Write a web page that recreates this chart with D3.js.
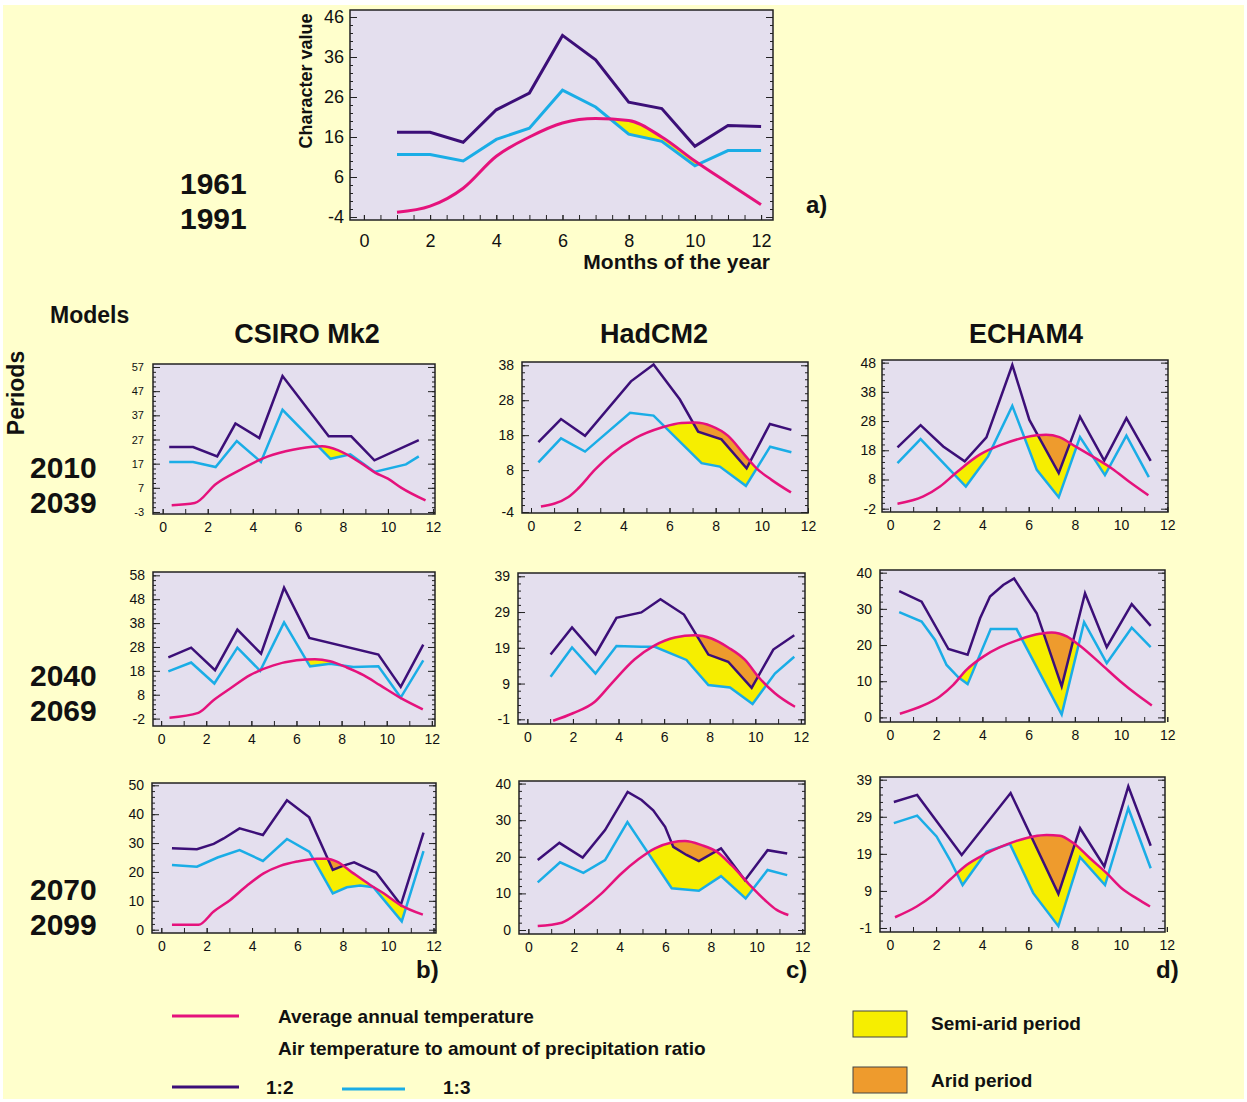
<!DOCTYPE html>
<html lang="en">
<head>
<meta charset="UTF-8">
<title>Character values by period and model</title>
<script src="https://d3js.org/d3.v7.min.js"></script>
<style>
  body { margin: 0; background: #ffffff; }
  svg { display: block; font-family: "Liberation Sans", Arial, sans-serif; }
</style>
</head>
<body>
<div id="chart"></div>
<script>
// ---- data ----
// 1961-1991 baseline, one value per month
var base_months = [1, 2, 3, 4, 5, 6, 7, 8, 9, 10, 11, 12];
var base_r2 = [17.2, 17.2, 14.7, 22.8, 27, 41.4, 35.3, 24.7, 23.1, 13.7, 18.9, 18.6];
var base_r3 = [11.6, 11.6, 10, 15.4, 18.2, 27.7, 23.5, 16.7, 14.9, 8.8, 12.6, 12.6];
var base_t  = [-2.8, -1.3, 3.2, 11.2, 16, 19.5, 20.6, 20.1, 16, 10, 4.5, -0.9];

// model periods: [month position, value]
var csiro_2010_r2 = [[0.29,23.9],[1.35,23.9],[2.42,20],[3.23,33.6],[4.29,27.6],[5.32,53.3],[7.37,28.3],[8.37,28.3],[9.4,18.4],[11.37,26.7]];
var csiro_2010_r3 = [[0.29,17.7],[1.35,17.7],[2.35,15.6],[3.29,26.4],[4.36,17.7],[5.32,39.3],[7.45,19],[8.33,20.9],[9.4,13.6],[10.8,16.7],[11.37,20]];
var csiro_2010_t  = [[0.4,-0.2],[1.42,0.7],[2.38,8.7],[3.4,14.2],[4.43,19.1],[5.46,22.1],[6.64,24],[7.08,24.2],[7.8,22.5],[8.84,17],[9.43,13.3],[10,10.8],[10.6,7],[11.67,1.8]];

var hadcm2_2010_r2 = [[0.32,16],[1.3,22.6],[2.34,17.8],[4.33,33.4],[5.31,38.2],[6.45,28.2],[7.24,19],[8.25,16.8],[9.34,8.5],[10.35,21.2],[11.28,19.5]];
var hadcm2_2010_r3 = [[0.32,10.2],[1.3,17.1],[2.34,13.3],[4.29,24.4],[5.31,23.6],[7.39,10],[8.18,9],[9.31,3.5],[10.36,14.7],[11.28,13.1]];
var hadcm2_2010_t  = [[0.43,-2.4],[1.62,0.3],[2.05,2.8],[2.77,8.1],[3.5,12.6],[4.5,17.1],[5.66,20.2],[6.52,21.5],[7.1,21.6],[7.82,20.6],[8.54,17.8],[9.26,12.3],[9.77,8.5],[10.42,5.2],[11.26,1.6]];

var echam4_2010_r2 = [[0.32,19],[1.32,26.6],[2.3,19.3],[3.23,14.2],[4.17,22.4],[5.29,47.2],[6.03,28.4],[7.3,10.2],[8.22,29.5],[9.27,14.5],[10.23,29],[11.28,14.4]];
var echam4_2010_r3 = [[0.32,13.6],[1.32,21.8],[3.28,5.6],[4.24,15.9],[5.29,33.2],[6.35,11.3],[7.3,1.9],[8.22,22.5],[9.3,9.5],[10.23,23],[11.2,8.8]];
var echam4_2010_t  = [[0.32,-0.3],[1.44,2.2],[2.16,5.6],[2.87,10.4],[3.88,16.5],[4.89,20.1],[5.89,22.5],[6.75,23.3],[7.33,22.5],[7.9,19.9],[8.76,15.9],[9.63,11.6],[10.34,7.3],[11.18,2.6]];

var csiro_2040_r2 = [[0.32,23.6],[1.33,27.7],[2.39,18.3],[3.38,35.3],[4.43,25.2],[5.45,52.8],[6.57,31.8],[9.63,24.8],[10.62,11.3],[11.62,29]];
var csiro_2040_r3 = [[0.32,17.8],[1.33,21.5],[2.36,12.7],[3.38,27.7],[4.39,18],[5.45,38.3],[6.6,19.9],[7.49,21],[8.52,19.6],[9.63,19.9],[10.62,6.8],[11.62,22.4]];
var csiro_2040_t  = [[0.37,-1.6],[1.65,0.4],[2.32,5.7],[3.06,10.6],[3.94,16.2],[4.98,20.3],[6.01,22.4],[6.82,22.9],[7.49,22],[8.23,19.4],[8.97,16.2],[9.7,12],[10.59,6.8],[11.6,1.9]];

var hadcm2_2040_r2 = [[1.02,17.1],[1.96,24.7],[2.99,17.2],[3.91,27.4],[5,28.9],[5.84,32.6],[6.87,28.3],[7.94,17.1],[8.81,15.1],[9.84,7.8],[10.79,18.5],[11.71,22.5]];
var hadcm2_2040_r3 = [[1.02,10.9],[1.96,19.1],[2.99,11.8],[3.91,19.5],[5,19.3],[5.59,19.3],[6.98,15.6],[7.94,8.6],[8.89,7.9],[9.88,3.3],[10.86,11.8],[11.71,16.5]];
var hadcm2_2040_t  = [[1.13,-1.4],[2,0.7],[2.96,3.9],[3.69,9],[4.71,15.8],[5.59,19.7],[6.47,21.9],[7.35,22.5],[8.08,21.6],[8.81,19.1],[9.55,15.6],[10.13,10.9],[10.86,6.3],[11.74,2.5]];

var echam4_2040_r2 = [[0.4,34.9],[1.37,32],[2.53,18.9],[3.36,17.3],[3.9,27.4],[4.33,33.4],[4.9,36.6],[5.37,38.4],[6.35,28.8],[7.43,8.6],[8.44,34.3],[9.38,19.4],[10.46,31.3],[11.28,25.3]];
var echam4_2040_r3 = [[0.4,29.1],[1.37,26.5],[1.95,21.4],[2.45,14.5],[2.96,11.1],[3.36,9.2],[4.36,24.4],[5.48,24.4],[7.43,0.8],[8.4,26.3],[9.38,15],[10.46,24.8],[11.28,19.4]];
var echam4_2040_t  = [[0.43,1],[1.44,3.3],[2.16,5.8],[2.74,9],[3.32,13.2],[4.04,16.8],[4.76,19.4],[5.63,21.6],[6.49,23.1],[7,23.5],[7.65,22.4],[8.22,19.8],[9.09,15],[9.96,10],[10.68,6.3],[11.33,3.3]];

var csiro_2070_r2 = [[0.47,28.2],[1.57,27.9],[2.31,29.7],[2.75,31.6],[3.45,35.1],[4.48,32.8],[5.54,44.8],[6.52,38.9],[7.56,20.7],[8.03,22.2],[8.5,23.3],[9.47,19.8],[10.56,8.6],[11.56,33.6]];
var csiro_2070_r3 = [[0.47,22.4],[1.57,21.8],[2.48,25],[3.45,27.6],[4.48,23.8],[5.54,31.4],[6.52,27],[7.56,12.6],[8.18,14.7],[8.77,15.3],[9.35,14.7],[10.6,2.9],[11.56,27.2]];
var csiro_2070_t  = [[0.47,1.7],[1.64,1.7],[2.31,6.3],[3.04,10.3],[3.77,15.2],[4.51,19.5],[5.24,22.1],[5.98,23.6],[6.86,24.6],[7.3,24.6],[7.74,23.6],[8.47,19.5],[9.21,15.5],[9.8,12.6],[10.53,8.6],[11.53,5.2]];

var hadcm2_2070_r2 = [[0.41,19.1],[1.36,23.8],[2.38,19.8],[3.36,27.3],[4.35,37.7],[4.96,35.5],[5.47,32.7],[5.99,28.2],[6.35,22.7],[6.93,20.5],[7.47,18.8],[8.44,22.3],[9.49,13.6],[10.48,21.8],[11.34,20.9]];
var hadcm2_2070_r3 = [[0.41,13],[1.39,18.5],[2.41,15.6],[3.36,19.1],[4.34,29.5],[6.28,11.4],[7.47,10.7],[8.44,14.7],[9.52,8.6],[10.48,16.4],[11.34,15]];
var hadcm2_2070_t  = [[0.41,1.1],[1.46,2],[2.34,5.5],[3.21,10],[4.09,15.5],[4.82,19.3],[5.55,22.3],[6.28,23.9],[6.86,24.3],[7.59,23.2],[8.25,21.4],[8.9,17.7],[9.64,12.7],[10.36,8.2],[10.88,5.5],[11.39,4.1]];

var echam4_2070_r2 = [[0.17,33],[1.18,34.9],[3.11,18.7],[5.23,35.4],[7.3,8.2],[8.24,25.9],[9.29,15.6],[10.33,37.2],[11.3,21.2]];
var echam4_2070_r3 = [[0.17,27.3],[1.18,29.3],[2.02,23.7],[2.6,17.4],[3.15,10.6],[4.19,19.6],[5.2,21.7],[6.21,8.4],[7.3,-0.5],[8.24,18.1],[9.32,10.6],[10.33,31.3],[11.3,15.1]];
var echam4_2070_t  = [[0.22,1.9],[1.16,4.8],[1.88,7.9],[2.6,12],[3.32,16],[4.05,18.7],[4.77,20.8],[5.49,22.5],[6.21,23.7],[6.79,24.1],[7.37,23.9],[7.95,21.9],[8.67,17.8],[9.39,13.8],[10.12,9.3],[10.69,7],[11.27,4.8]];

// tick labels
var month_ticks = [0, 2, 4, 6, 8, 10, 12];
var base_yticks = [46, 36, 26, 16, 6, -4];
var csiro_2010_yticks = [57, 47, 37, 27, 17, 7, -3];
var hadcm2_2010_yticks = [38, 28, 18, 8, -4];
var echam4_2010_yticks = [48, 38, 28, 18, 8, -2];
var csiro_2040_yticks = [58, 48, 38, 28, 18, 8, -2];
var hadcm2_2040_yticks = [39, 29, 19, 9, -1];
var echam4_2040_yticks = [40, 30, 20, 10, 0];
var csiro_2070_yticks = [50, 40, 30, 20, 10, 0];
var hadcm2_2070_yticks = [40, 30, 20, 10, 0];
var echam4_2070_yticks = [39, 29, 19, 9, -1];

var models = ["CSIRO Mk2", "HadCM2", "ECHAM4"];
var periods = [["2010", "2039"], ["2040", "2069"], ["2070", "2099"]];

// colours
var c_page = "#ffffcc", c_plot = "#e4dfee";
var c_r2 = "#3c0f78", c_r3 = "#1aade6", c_t = "#e5127c";
var c_semi = "#f6ee00", c_arid = "#ee9b2d";

var svg = d3.select("#chart").append("svg")
    .attr("width", 1247)
    .attr("height", 1102);

svg.append("rect")
    .attr("x", 3).attr("y", 5)
    .attr("width", 1241).attr("height", 1094)
    .attr("fill", c_page);

var defs = svg.append("defs");

// panel placement on the page
var panels = [
  {id: "a",  box: [350, 10, 773, 220], xdom: [-0.42, 12.36], ydom: [-4.75, 47.75], yt: base_yticks,
   r2: d3.zip(base_months, base_r2), r3: d3.zip(base_months, base_r3), t: d3.zip(base_months, base_t),
   fs: 18, yfs: 18, xpad: 14, ypad: 6, xminor: 0.5, lw: 3},
  {id: "b1", box: [153, 364, 435, 514], xdom: [-0.43, 12.09], ydom: [-3.83, 58.24], yt: csiro_2010_yticks,
   r2: csiro_2010_r2, r3: csiro_2010_r3, t: csiro_2010_t, fs: 14, yfs: 11, xpad: 8, ypad: 9, xminor: 1, lw: 2.5},
  {id: "c1", box: [522, 362, 808, 513], xdom: [-0.39, 12.0], ydom: [-4.28, 38.94], yt: hadcm2_2010_yticks,
   r2: hadcm2_2010_r2, r3: hadcm2_2010_r3, t: hadcm2_2010_t, fs: 14, yfs: 14, xpad: 8, ypad: 8, xminor: 1, lw: 2.5},
  {id: "d1", box: [882, 360, 1168, 512], xdom: [-0.35, 12.03], ydom: [-3.13, 48.9], yt: echam4_2010_yticks,
   r2: echam4_2010_r2, r3: echam4_2010_r3, t: echam4_2010_t, fs: 14, yfs: 14, xpad: 8, ypad: 6, xminor: 1, lw: 2.5},
  {id: "b2", box: [153, 572, 435, 726], xdom: [-0.36, 12.14], ydom: [-5.1, 59.4], yt: csiro_2040_yticks,
   r2: csiro_2040_r2, r3: csiro_2040_r3, t: csiro_2040_t, fs: 14, yfs: 14, xpad: 8, ypad: 8, xminor: 1, lw: 2.5},
  {id: "c2", box: [518, 573, 805, 724], xdom: [-0.41, 12.18], ydom: [-2.31, 39.92], yt: hadcm2_2040_yticks,
   r2: hadcm2_2040_r2, r3: hadcm2_2040_r3, t: hadcm2_2040_t, fs: 14, yfs: 14, xpad: 8, ypad: 8, xminor: 1, lw: 2.5},
  {id: "d2", box: [880, 570, 1165, 722], xdom: [-0.43, 11.9], ydom: [-1.27, 40.74], yt: echam4_2040_yticks,
   r2: echam4_2040_r2, r3: echam4_2040_r3, t: echam4_2040_t, fs: 14, yfs: 14, xpad: 8, ypad: 8, xminor: 1, lw: 2.5},
  {id: "b3", box: [152, 783, 436, 933], xdom: [-0.41, 12.11], ydom: [-1.14, 50.8], yt: csiro_2070_yticks,
   r2: csiro_2070_r2, r3: csiro_2070_r3, t: csiro_2070_t, fs: 14, yfs: 14, xpad: 8, ypad: 8, xminor: 1, lw: 2.5},
  {id: "c3", box: [519, 781, 805, 934], xdom: [-0.41, 12.12], ydom: [-1.09, 40.7], yt: hadcm2_2070_yticks,
   r2: hadcm2_2070_r2, r3: hadcm2_2070_r3, t: hadcm2_2070_t, fs: 14, yfs: 14, xpad: 8, ypad: 8, xminor: 1, lw: 2.5},
  {id: "d3", box: [880, 777, 1165, 932], xdom: [-0.43, 11.92], ydom: [-2.08, 39.73], yt: echam4_2070_yticks,
   r2: echam4_2070_r2, r3: echam4_2070_r3, t: echam4_2070_t, fs: 14, yfs: 14, xpad: 8, ypad: 8, xminor: 1, lw: 2.5}
];

panels.forEach(drawPanel);

function drawPanel(p) {
  var x0 = p.box[0], y0 = p.box[1], x1 = p.box[2], y1 = p.box[3];
  var x = d3.scaleLinear().domain(p.xdom).range([x0, x1]);
  var y = d3.scaleLinear().domain(p.ydom).range([y1, y0]);
  var g = svg.append("g");

  g.append("rect")
      .attr("x", x0).attr("y", y0)
      .attr("width", x1 - x0).attr("height", y1 - y0)
      .attr("fill", c_plot);

  // clip areas: plot frame, region above 1:3 and above 1:2 lines
  var above = d3.area().x(d => x(d[0])).y0(y0).y1(d => y(d[1]));
  defs.append("clipPath").attr("id", "frame-" + p.id)
    .append("rect").attr("x", x0).attr("y", y0).attr("width", x1 - x0).attr("height", y1 - y0);
  defs.append("clipPath").attr("id", "above3-" + p.id)
    .append("path").attr("d", above(p.r3));
  defs.append("clipPath").attr("id", "above2-" + p.id)
    .append("path").attr("d", above(p.r2));

  var underT = d3.area().curve(d3.curveMonotoneX)
      .x(d => x(d[0])).y0(y1).y1(d => y(d[1]));

  var inner = g.append("g").attr("clip-path", "url(#frame-" + p.id + ")");
  // semi-arid: temperature above the 1:3 line
  inner.append("g").attr("clip-path", "url(#above3-" + p.id + ")")
    .append("path").attr("d", underT(p.t)).attr("fill", c_semi);
  // arid: temperature above the 1:2 line
  inner.append("g").attr("clip-path", "url(#above2-" + p.id + ")")
    .append("path").attr("d", underT(p.t)).attr("fill", c_arid);

  var straight = d3.line().x(d => x(d[0])).y(d => y(d[1]));
  var smooth = d3.line().curve(d3.curveMonotoneX).x(d => x(d[0])).y(d => y(d[1]));

  inner.append("path").attr("d", straight(p.r3))
      .attr("fill", "none").attr("stroke", c_r3).attr("stroke-width", p.lw);
  inner.append("path").attr("d", straight(p.r2))
      .attr("fill", "none").attr("stroke", c_r2).attr("stroke-width", p.lw);
  inner.append("path").attr("d", smooth(p.t))
      .attr("fill", "none").attr("stroke", c_t).attr("stroke-width", p.lw);

  // minor ticks every 2 units
  var lo = d3.min(p.yt), hi = p.ydom[1];
  var minor = d3.range(lo, hi, 2);
  var xminor = d3.range(0, 12.001, p.xminor);

  g.append("g").attr("transform", "translate(" + x0 + ",0)")
      .call(d3.axisLeft(y).tickValues(minor).tickSize(-3).tickFormat(""));
  g.append("g").attr("transform", "translate(" + x1 + ",0)")
      .call(d3.axisRight(y).tickValues(minor).tickSize(-3).tickFormat(""));
  g.append("g").attr("transform", "translate(" + x1 + ",0)")
      .call(d3.axisRight(y).tickValues(p.yt).tickSize(-7).tickFormat(""));
  g.append("g").attr("transform", "translate(0," + y1 + ")")
      .call(d3.axisBottom(x).tickValues(xminor).tickSize(-5).tickFormat(""));

  // plain hyphen for negative labels, as in the figure
  var plain = function(d) { return String(d); };
  var ya = g.append("g").attr("transform", "translate(" + x0 + ",0)")
      .call(d3.axisLeft(y).tickValues(p.yt).tickSize(-7).tickPadding(p.ypad).tickFormat(plain));
  var xa = g.append("g").attr("transform", "translate(0," + y1 + ")")
      .call(d3.axisBottom(x).tickValues(month_ticks).tickSize(-5).tickPadding(p.xpad).tickFormat(plain));

  ya.attr("font-size", p.yfs).attr("font-family", null);
  xa.attr("font-size", p.fs).attr("font-family", null);
  g.selectAll(".domain").remove();
  g.selectAll(".tick line").attr("stroke", "#222");
  g.selectAll(".tick text").attr("fill", "#111");

  g.append("rect")
      .attr("x", x0).attr("y", y0)
      .attr("width", x1 - x0).attr("height", y1 - y0)
      .attr("fill", "none").attr("stroke", "#222").attr("stroke-width", 1.5);
}

// ---- titles and labels ----
function label(txt, px, py, size, anchor, rot) {
  var t = svg.append("text")
      .attr("x", px).attr("y", py)
      .attr("font-size", size)
      .attr("font-weight", "bold")
      .attr("fill", "#111")
      .attr("text-anchor", anchor || "start")
      .text(txt);
  if (rot) t.attr("transform", "rotate(" + rot + "," + px + "," + py + ")");
  return t;
}

label("1961", 180, 194, 30);
label("1991", 180, 229, 30);
label("Character value", 312, 81, 18, "middle", -90);
label("Months of the year", 770, 269, 21, "end");
label("a)", 806, 213, 24);

label("Models", 50, 323, 23);
label("Periods", 24, 393, 23, "middle", -90);

var colCenters = [307, 654, 1026];
models.forEach(function(m, i) { label(m, colCenters[i], 343, 27, "middle"); });

var rowBase = [478, 686, 900];
periods.forEach(function(pp, i) {
  label(pp[0], 30, rowBase[i], 30);
  label(pp[1], 30, rowBase[i] + 35, 30);
});

label("b)", 416, 978, 24);
label("c)", 786, 978, 24);
label("d)", 1156, 978, 24);

// ---- legend ----
var leg = svg.append("g");
leg.append("line").attr("x1", 172).attr("x2", 239).attr("y1", 1016).attr("y2", 1016)
    .attr("stroke", c_t).attr("stroke-width", 3);
leg.append("line").attr("x1", 172).attr("x2", 239).attr("y1", 1087).attr("y2", 1087)
    .attr("stroke", c_r2).attr("stroke-width", 3);
leg.append("line").attr("x1", 342).attr("x2", 405).attr("y1", 1089).attr("y2", 1089)
    .attr("stroke", c_r3).attr("stroke-width", 3);

label("Average annual temperature", 278, 1023, 19);
label("Air temperature to amount of precipitation ratio", 278, 1055, 19);
label("1:2", 266, 1094, 19);
label("1:3", 443, 1094, 19);

leg.append("rect").attr("x", 853).attr("y", 1011).attr("width", 54).attr("height", 26)
    .attr("fill", c_semi).attr("stroke", "#444").attr("stroke-width", 1);
leg.append("rect").attr("x", 853).attr("y", 1067).attr("width", 54).attr("height", 26)
    .attr("fill", c_arid).attr("stroke", "#444").attr("stroke-width", 1);
label("Semi-arid period", 931, 1030, 19);
label("Arid period", 931, 1087, 19);
</script>
</body>
</html>
